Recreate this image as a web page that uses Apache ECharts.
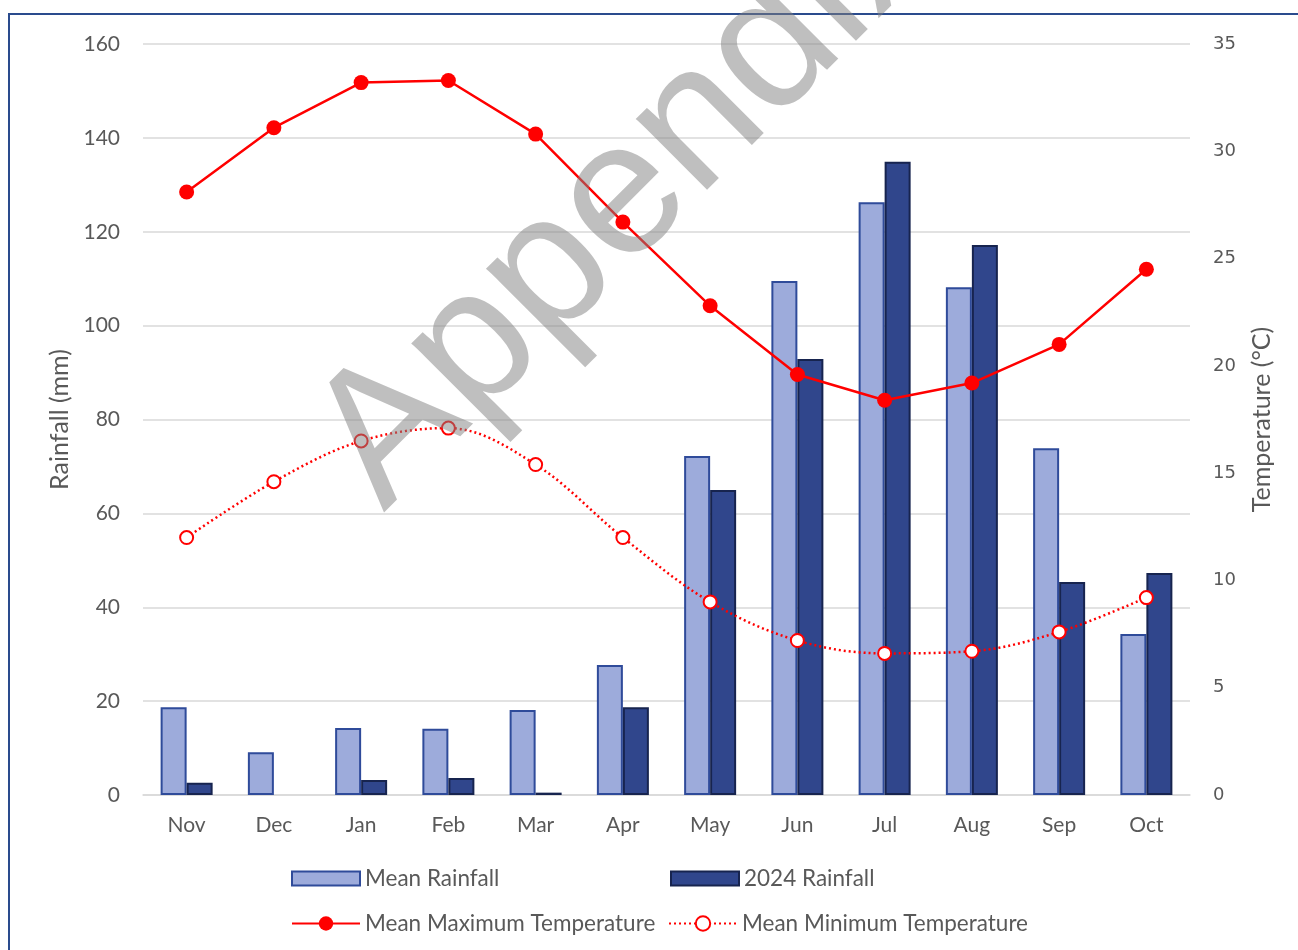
<!DOCTYPE html>
<html>
<head>
<meta charset="utf-8">
<script src="https://cdn.jsdelivr.net/npm/echarts@6/dist/echarts.min.js"></script>
<style>
  html, body { margin: 0; padding: 0; background: #fff; }
  #chart { width: 1298px; height: 950px; }
</style>
</head>
<body>
<div id="chart"></div>
<script>
// Monthly climate summary: rainfall bars (left axis) and temperature lines (right axis)
const months = ['Nov', 'Dec', 'Jan', 'Feb', 'Mar', 'Apr', 'May', 'Jun', 'Jul', 'Aug', 'Sep', 'Oct'];
const meanRainfall = [18.7, 9.1, 14.3, 14.1, 18.1, 27.7, 72.2, 109.5, 126.3, 108.2, 73.9, 34.3];
const rainfall2024 = [2.6, 0, 3.2, 3.6, 0.5, 18.7, 65.0, 92.9, 134.9, 117.2, 45.4, 47.3];
const meanMaxTemp = [28.1, 31.1, 33.2, 33.3, 30.8, 26.7, 22.8, 19.6, 18.4, 19.2, 21.0, 24.5];
const meanMinTemp = [12.0, 14.6, 16.5, 17.1, 15.4, 12.0, 9.0, 7.2, 6.6, 6.7, 7.6, 9.2];
const rainTicks = { min: 0, max: 160, interval: 20 };
const tempTicks = { min: 0, max: 35, interval: 5 };

const textGrey = '#595959';
const baseFont = 'Lato';
const chart = echarts.init(document.getElementById('chart'), null, { renderer: 'canvas' });

// zero-rainfall months get no outline so they stay empty
function barData(values) {
  return values.map(v => (v === 0 ? { value: v, itemStyle: { borderWidth: 0 } } : v));
}

function legendAt(name, left, top, iconH, icon) {
  return {
    data: [icon ? { name: name, icon: icon } : name],
    left: left,
    top: top,
    padding: 0,
    itemWidth: 68,
    itemHeight: iconH,
    itemGap: 8,
    selectedMode: false,
    textStyle: { color: textGrey, fontFamily: baseFont, fontSize: 22.5 }
  };
}

chart.setOption({
  animation: false,
  backgroundColor: '#ffffff',
  grid: { left: 143, right: 108, top: 44, bottom: 155, containLabel: false },
  legend: [
    legendAt('Mean Rainfall', 291, 867, 14, 'rect'),
    legendAt('2024 Rainfall', 670, 867, 14, 'rect'),
    legendAt('Mean Maximum Temperature', 291, 912, 18),
    legendAt('Mean Minimum Temperature', 668, 912, 18)
  ],
  xAxis: {
    type: 'category',
    data: months,
    axisLine: { lineStyle: { color: '#d9d9d9', width: 1.5 } },
    axisTick: { show: false },
    axisLabel: { color: textGrey, fontFamily: baseFont, fontSize: 21, margin: 20 }
  },
  yAxis: [
    {
      type: 'value',
      min: rainTicks.min, max: rainTicks.max, interval: rainTicks.interval,
      name: 'Rainfall (mm)',
      nameLocation: 'middle',
      nameGap: 68,
      nameRotate: 90,
      nameTextStyle: { color: textGrey, fontFamily: baseFont, fontSize: 25 },
      axisLine: { show: false },
      axisTick: { show: false },
      axisLabel: { color: textGrey, fontFamily: baseFont, fontSize: 21, margin: 23 },
      splitLine: { lineStyle: { color: '#d9d9d9', width: 1.5 } }
    },
    {
      type: 'value',
      min: tempTicks.min, max: tempTicks.max, interval: tempTicks.interval,
      name: 'Temperature (°C)',
      nameLocation: 'middle',
      nameGap: 59,
      nameRotate: 90,
      nameTextStyle: { color: textGrey, fontFamily: baseFont, fontSize: 25 },
      axisLine: { show: false },
      axisTick: { show: false },
      axisLabel: { color: textGrey, fontFamily: 'DejaVu Sans', fontSize: 18, margin: 23 },
      splitLine: { show: false }
    }
  ],
  series: [
    {
      name: 'Mean Rainfall',
      type: 'bar',
      yAxisIndex: 0,
      data: barData(meanRainfall),
      barWidth: 26,
      barGap: '0%',
      itemStyle: { color: '#9dabdb', borderColor: '#2f4b9a', borderWidth: 2 },
      z: 2
    },
    {
      name: '2024 Rainfall',
      type: 'bar',
      yAxisIndex: 0,
      data: barData(rainfall2024),
      barWidth: 26,
      barGap: '0%',
      itemStyle: { color: '#30468c', borderColor: '#17244f', borderWidth: 2 },
      z: 2
    },
    {
      name: 'Mean Maximum Temperature',
      type: 'line',
      yAxisIndex: 1,
      data: meanMaxTemp,
      symbol: 'circle',
      symbolSize: 15,
      itemStyle: { color: '#ff0000' },
      lineStyle: { color: '#ff0000', width: 2.5 },
      z: 5
    },
    {
      name: 'Mean Minimum Temperature',
      type: 'line',
      yAxisIndex: 1,
      data: meanMinTemp,
      smooth: 0.35,
      symbol: 'circle',
      symbolSize: 13,
      itemStyle: { color: '#ffffff', borderColor: '#ff0000', borderWidth: 2 },
      lineStyle: { color: '#ff0000', width: 2.5, type: [2, 3] },
      z: 5
    }
  ],
  graphic: [
    {
      // outer chart frame
      type: 'rect',
      shape: { x: 9, y: 14, width: 1400, height: 1000 },
      style: { fill: 'none', stroke: '#2a4b8d', lineWidth: 2 },
      silent: true,
      z: 1
    },
    {
      // diagonal watermark
      type: 'text',
      x: 414,
      y: 543,
      rotation: Math.PI / 4,
      style: {
        text: 'Appendix',
        font: '190px "Liberation Sans"',
        fill: 'rgba(128,128,128,0.5)',
        textAlign: 'left',
        textVerticalAlign: 'bottom'
      },
      silent: true,
      z: 100
    }
  ]
});
</script>
</body>
</html>
